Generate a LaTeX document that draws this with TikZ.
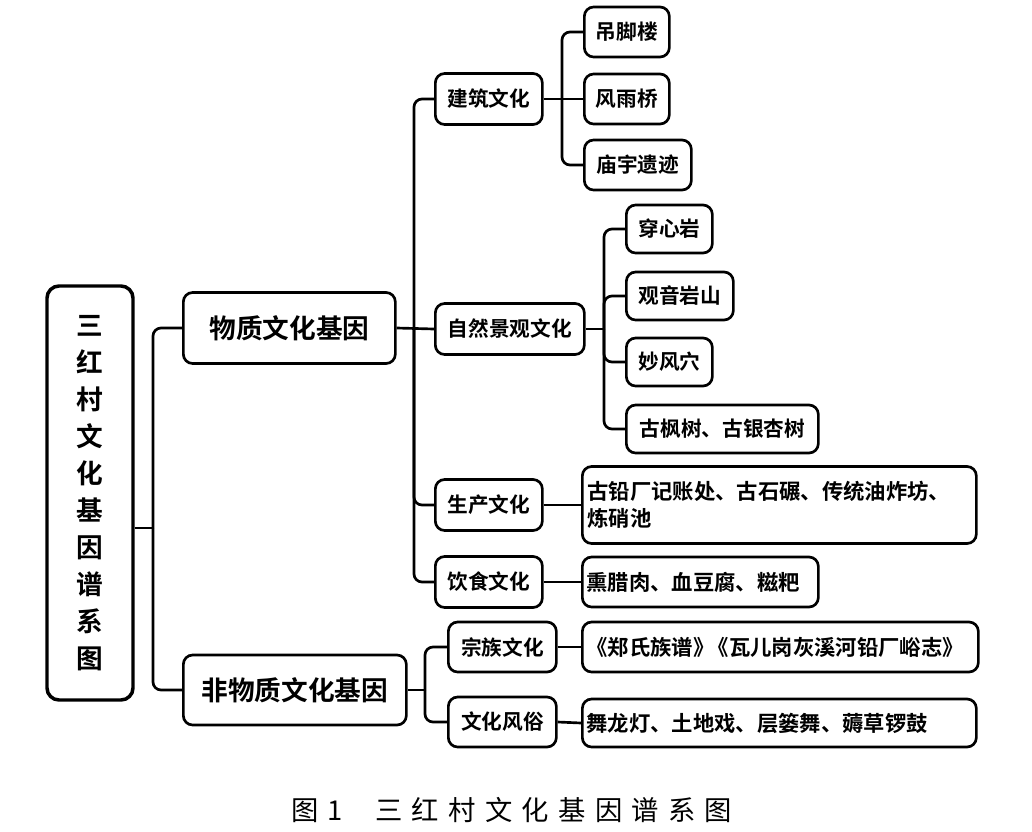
\documentclass[tikz,border=0pt]{standalone}
\usepackage{fontspec}
\setmainfont{Noto Sans CJK SC}[BoldFont={Noto Sans CJK SC Bold}]
\newfontfamily\capfont[LetterSpace=34]{Noto Sans CJK SC}
\begin{document}
\begin{tikzpicture}[x=0.75pt,y=-0.75pt,
  box/.style={draw=black,line width=2pt,rounded corners=7pt,inner sep=0pt,font=\bfseries\fontsize{15.5pt}{20pt}\selectfont},
  leaf/.style={box,font=\bfseries\fontsize{16pt}{20.5pt}\selectfont},
  big/.style={box,font=\bfseries\fontsize{20pt}{24pt}\selectfont},
  conn/.style={draw=black,line width=2pt,rounded corners=6pt}]
\useasboundingbox (0,0) rectangle (1032,832);
\def\u{0.75pt}
% root
\node[box,line width=2.6pt,rounded corners=9pt,minimum width=86*\u,minimum height=414*\u,align=center,font=\bfseries\fontsize{20pt}{27.8pt}\selectfont] (root) at (90,493) {三\\红\\村\\文\\化\\基\\因\\谱\\系\\图};
% level 1
\node[big,anchor=west,minimum width=212*\u,minimum height=71*\u] (wz) at (182,328) {物质文化基因};
\node[big,anchor=west,minimum width=223*\u,minimum height=70*\u] (fwz) at (182,690) {非物质文化基因};
% level 2
\node[box,anchor=west,minimum width=107*\u,minimum height=51*\u] (jz) at (434,99) {建筑文化};
\node[box,anchor=west,minimum width=149*\u,minimum height=51*\u] (zr) at (434,329) {自然景观文化};
\node[box,anchor=west,minimum width=107*\u,minimum height=51*\u] (sc) at (434,505) {生产文化};
\node[box,anchor=west,minimum width=107*\u,minimum height=51*\u] (ys) at (434,582) {饮食文化};
\node[box,anchor=west,minimum width=108*\u,minimum height=50*\u] (zz) at (447,647) {宗族文化};
\node[box,anchor=west,minimum width=108*\u,minimum height=50*\u] (fs) at (447,722) {文化风俗};
% level 3
\node[box,anchor=west,minimum width=85*\u,minimum height=50*\u] (djl) at (583,32) {吊脚楼};
\node[box,anchor=west,minimum width=85*\u,minimum height=50*\u] (fyq) at (583,99) {风雨桥};
\node[box,anchor=west,minimum width=107*\u,minimum height=50*\u] (myyj) at (583,165) {庙宇遗迹};
\node[box,anchor=west,minimum width=86*\u,minimum height=48*\u] (cxy) at (625,229) {穿心岩};
\node[box,anchor=west,minimum width=107*\u,minimum height=48*\u] (gyys) at (625,296) {观音岩山};
\node[box,anchor=west,minimum width=86*\u,minimum height=48*\u] (mfx) at (625,362) {妙风穴};
\node[box,anchor=west,minimum width=192*\u,minimum height=48*\u] (gfs) at (625,429) {古枫树、古银杏树};
\node[leaf,anchor=west,minimum width=394*\u,minimum height=77*\u,text width=384*\u,align=left] (scl) at (581,505) {古铅厂记账处、古石碾、传统油炸坊、\\炼硝池};
\node[leaf,anchor=west,minimum width=236*\u,minimum height=50*\u,text width=228*\u,align=left] (ysl) at (581,582) {熏腊肉、血豆腐、糍粑};
\node[leaf,anchor=west,minimum width=396*\u,minimum height=50*\u,text width=388*\u,align=left] (zzl) at (581,647) {《郑氏族谱》\hspace{-0.3em}《瓦儿岗灰溪河铅厂峪志》};
\node[leaf,anchor=west,minimum width=394*\u,minimum height=48*\u,text width=386*\u,align=left] (fsl) at (581,723) {舞龙灯、土地戏、层篓舞、薅草锣鼓};
% caption
\node[font=\capfont\fontsize{20.5pt}{24pt}\selectfont] (cap) at (512,810) {图\hspace{0.3em}1\hspace{1.2em}三红村文化基因谱系图};
% connectors
\coordinate (t0) at (153,528);
\draw[conn] (root.east |- t0) -- (t0);
\draw[conn] (t0) |- (wz.west);
\draw[conn] (t0) |- (fwz.west);
\coordinate (t1) at (414,328);
\draw[conn] (wz.east) -- (zr.west);
\draw[conn] (t1) |- (jz.west);
\draw[conn] (t1) |- (sc.west);
\draw[conn] (t1) |- (ys.west);
\coordinate (t2) at (425,690);
\draw[conn] (fwz.east) -- (t2);
\draw[conn] (t2) |- (zz.west);
\draw[conn] (t2) |- (fs.west);
\coordinate (t3) at (562,99);
\draw[conn] (jz.east) -- (fyq.west);
\draw[conn] (t3) |- (djl.west);
\draw[conn] (t3) |- (myyj.west);
\coordinate (t4) at (604,329);
\draw[conn] (zr.east) -- (t4);
\draw[conn] (t4) |- (cxy.west);
\draw[conn] (t4) |- (gyys.west);
\draw[conn] (t4) |- (mfx.west);
\draw[conn] (t4) |- (gfs.west);
\draw[conn] (sc.east) -- (scl.west);
\draw[conn] (ys.east) -- (ysl.west);
\draw[conn] (zz.east) -- (zzl.west);
\draw[conn] (fs.east) -- (fsl.west);
\end{tikzpicture}
\end{document}
